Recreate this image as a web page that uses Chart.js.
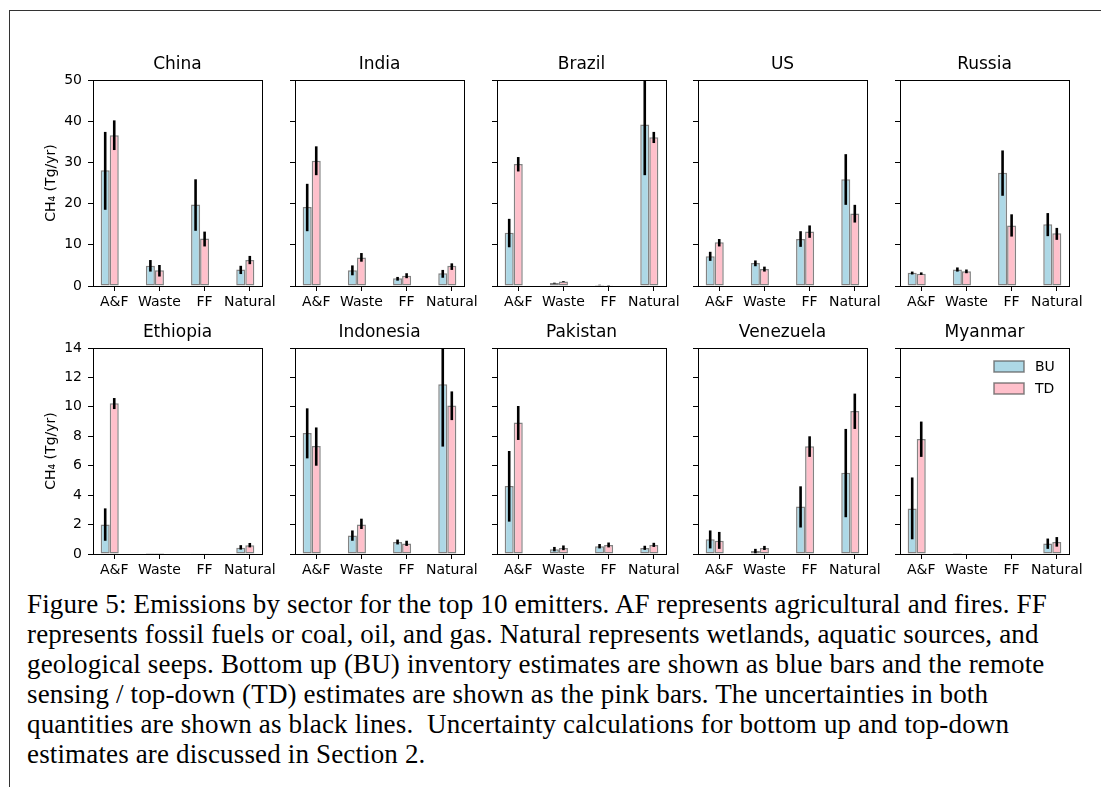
<!DOCTYPE html>
<html>
<head>
<meta charset="utf-8">
<script src="https://cdn.jsdelivr.net/npm/chart.js@4.4.1/dist/chart.umd.min.js"></script>
<style>
  body { margin: 0; background: #fff; }
  #page { position: relative; width: 1101px; height: 787px; overflow: hidden; }
  #frameTop { position: absolute; left: 10px; top: 10px; width: 1091px; height: 0; border-top: 1.5px solid #333; }
  #frameLeft { position: absolute; left: 9px; top: 10px; width: 0; height: 777px; border-left: 1.5px solid #333; }
  .panel { position: absolute; }
  #caption {
    position: absolute; left: 27px; top: 589px; width: 1072px;
    font-family: "Liberation Serif", "Times New Roman", serif; font-size: 27px; line-height: 30px;
    letter-spacing: 0.15px; color: #000; white-space: pre;
  }
</style>
</head>
<body>
<div id="page">
  <div id="frameTop"></div>
  <div id="frameLeft"></div>
  <div id="caption">Figure 5: Emissions by sector for the top 10 emitters. AF represents agricultural and fires. FF
represents fossil fuels or coal, oil, and gas. Natural represents wetlands, aquatic sources, and
geological seeps. Bottom up (BU) inventory estimates are shown as blue bars and the remote
sensing / top-down (TD) estimates are shown as the pink bars. The uncertainties in both
quantities are shown as black lines.  Uncertainty calculations for bottom up and top-down
estimates are discussed in Section 2.</div>
</div>
<script>
// values, Tg/yr
var countries = ['China', 'India', 'Brazil', 'US', 'Russia',
                 'Ethiopia', 'Indonesia', 'Pakistan', 'Venezuela', 'Myanmar'];
var sectors = ['A&F', 'Waste', 'FF', 'Natural'];

var buValues = [
  [28.1, 4.9, 19.8, 4.0],
  [19.2, 3.8, 1.9, 3.1],
  [12.9, 0.7, 0.25, 39.2],
  [7.2, 5.6, 11.4, 25.9],
  [3.2, 4.0, 27.5, 15.0],
  [2.0, 0.06, 0.02, 0.43],
  [8.22, 1.25, 0.82, 11.53],
  [4.62, 0.32, 0.52, 0.41],
  [1.0, 0.2, 3.22, 5.53],
  [3.1, 0.06, 0.02, 0.72]
];
var buLow = [
  [18.5, 3.5, 13.4, 2.9],
  [13.3, 2.6, 1.3, 2.0],
  [9.4, 0.6, 0.2, 26.9],
  [6.1, 4.8, 9.5, 19.7],
  [2.8, 3.5, 21.9, 12.1],
  [0.9, 0.06, 0.02, 0.3],
  [6.5, 0.9, 0.65, 7.3],
  [2.2, 0.18, 0.38, 0.28],
  [0.38, 0.05, 1.8, 2.5],
  [1.0, 0.06, 0.02, 0.35]
];
var buHigh = [
  [37.4, 6.3, 25.9, 4.9],
  [24.8, 5.0, 2.2, 3.9],
  [16.3, 0.8, 0.3, 51.5],
  [8.3, 6.2, 13.3, 32.0],
  [3.5, 4.5, 32.9, 17.7],
  [3.1, 0.06, 0.02, 0.6],
  [9.9, 1.6, 0.98, 15.7],
  [7.0, 0.48, 0.68, 0.56],
  [1.6, 0.35, 4.6, 8.5],
  [5.2, 0.06, 0.02, 1.05]
];
var tdValues = [
  [36.6, 3.8, 11.5, 6.3],
  [30.4, 6.9, 2.5, 4.9],
  [29.6, 1.1, 0.2, 36.1],
  [10.6, 4.1, 13.2, 17.6],
  [3.0, 3.6, 14.7, 12.8],
  [10.24, 0.06, 0.02, 0.6],
  [7.34, 2.0, 0.72, 10.1],
  [8.93, 0.41, 0.61, 0.61],
  [0.9, 0.41, 7.32, 9.72],
  [7.82, 0.04, 0.02, 0.82]
];
var tdLow = [
  [33.0, 2.3, 9.6, 5.3],
  [26.9, 5.9, 1.9, 3.9],
  [27.8, 1.0, 0.15, 34.7],
  [9.6, 3.5, 11.7, 15.4],
  [2.7, 3.1, 12.0, 11.2],
  [9.85, 0.06, 0.02, 0.45],
  [6.0, 1.7, 0.55, 9.1],
  [7.75, 0.26, 0.45, 0.48],
  [0.35, 0.27, 6.6, 8.5],
  [6.6, 0.04, 0.02, 0.5]
];
var tdHigh = [
  [40.2, 5.1, 13.2, 7.3],
  [33.9, 8.0, 3.1, 5.5],
  [31.3, 1.2, 0.25, 37.4],
  [11.4, 4.7, 14.7, 19.7],
  [3.3, 4.0, 17.4, 14.1],
  [10.6, 0.06, 0.02, 0.75],
  [8.6, 2.4, 0.9, 11.05],
  [10.06, 0.58, 0.78, 0.76],
  [1.5, 0.55, 8.0, 10.9],
  [9.0, 0.04, 0.02, 1.15]
];
var yMaxRows = [50, 14];
var yStepRows = [10, 2];

Chart.defaults.font.family = 'DejaVu Sans';
Chart.defaults.color = '#000';

// layout of the 2 x 5 grid (plot area corners, px)
var plotLefts = [93, 295, 497, 698, 900];
var plotTops = [80, 348];
var plotW = 169, plotH = 206;
var yAxisW = 50, titleH = 25, xAxisH = 30, padRight = 30;
var groupShift = -0.1;

var errorBars = {
  id: 'errorBars',
  afterDatasetsDraw: function (chart) {
    var ctx = chart.ctx, area = chart.chartArea, ys = chart.scales.y;
    ctx.save();
    ctx.beginPath();
    ctx.rect(area.left, area.top, area.right - area.left, area.bottom - area.top);
    ctx.clip();
    ctx.strokeStyle = '#000';
    ctx.lineWidth = 2.6;
    chart.data.datasets.forEach(function (ds, d) {
      var meta = chart.getDatasetMeta(d);
      meta.data.forEach(function (bar, i) {
        if (ds.errHigh[i] - ds.errLow[i] <= 0) return;
        ctx.beginPath();
        ctx.moveTo(bar.x, ys.getPixelForValue(ds.errLow[i]));
        ctx.lineTo(bar.x, ys.getPixelForValue(ds.errHigh[i]));
        ctx.stroke();
      });
    });
    ctx.restore();
  }
};

var frameBox = {
  id: 'frameBox',
  afterDraw: function (chart) {
    var ctx = chart.ctx, a = chart.chartArea;
    ctx.save();
    ctx.strokeStyle = '#000';
    ctx.lineWidth = 1;
    ctx.strokeRect(Math.round(a.left) + 0.5, Math.round(a.top) + 0.5,
                   Math.round(a.right - a.left), Math.round(a.bottom - a.top));
    ctx.restore();
  }
};

var insideLegend = {
  id: 'insideLegend',
  afterDraw: function (chart) {
    var ctx = chart.ctx, a = chart.chartArea;
    ctx.save();
    ctx.font = '14px "DejaVu Sans"';
    ctx.textBaseline = 'middle';
    chart.data.datasets.forEach(function (ds, d) {
      var bx = a.right - 75, by = a.top + 13 + d * 22;
      ctx.fillStyle = ds.backgroundColor;
      ctx.fillRect(bx, by, 30, 11);
      ctx.strokeStyle = ds.borderColor;
      ctx.lineWidth = 1.5;
      ctx.strokeRect(bx, by, 30, 11);
      ctx.fillStyle = '#000';
      ctx.fillText(ds.label, bx + 41, by + 6);
    });
    ctx.restore();
  }
};

function makePanel(c) {
  var row = Math.floor(c / 5), col = c % 5;
  var div = document.createElement('div');
  div.className = 'panel';
  div.style.left = (plotLefts[col] - yAxisW) + 'px';
  div.style.top = (plotTops[row] - titleH) + 'px';
  div.style.width = (yAxisW + plotW + padRight) + 'px';
  div.style.height = (titleH + plotH + xAxisH) + 'px';
  var canvas = document.createElement('canvas');
  div.appendChild(canvas);
  document.getElementById('page').appendChild(div);

  function series(vals) {
    return vals.map(function (v, i) { return { x: i + groupShift, y: v }; });
  }
  var firstCol = col === 0;
  var plugins = [errorBars, frameBox];
  if (c === 9) plugins.push(insideLegend);

  new Chart(canvas, {
    type: 'bar',
    data: {
      datasets: [
        { label: 'BU', data: series(buValues[c]), errLow: buLow[c], errHigh: buHigh[c],
          backgroundColor: '#add8e6', borderColor: 'rgba(90,90,90,0.75)', borderWidth: 1.5 },
        { label: 'TD', data: series(tdValues[c]), errLow: tdLow[c], errHigh: tdHigh[c],
          backgroundColor: '#ffc0cb', borderColor: 'rgba(90,90,90,0.75)', borderWidth: 1.5 }
      ]
    },
    plugins: plugins,
    options: {
      responsive: true,
      maintainAspectRatio: false,
      animation: false,
      layout: { padding: { left: 0, top: 0, bottom: 0, right: padRight } },
      categoryPercentage: 0.4,
      barPercentage: 1.0,
      borderSkipped: false,
      plugins: {
        legend: { display: false },
        tooltip: { enabled: false },
        title: {
          display: true, fullSize: false, text: countries[c], color: '#000',
          font: { size: 17, weight: 'normal', lineHeight: '20px' },
          padding: { top: 0, bottom: 5 }
        }
      },
      scales: {
        x: {
          type: 'linear', min: -0.47, max: 3.27, offset: false,
          afterBuildTicks: function (s) { s.ticks = sectors.map(function (n, i) { return { value: i }; }); },
          afterFit: function (s) { s.height = xAxisH; s.paddingLeft = 0; s.paddingRight = 0; },
          ticks: {
            font: { size: 14 }, color: '#000', padding: 3, maxRotation: 0, autoSkip: false,
            callback: function (v) { return sectors[v]; }
          },
          grid: { display: true, offset: false, drawOnChartArea: false, drawTicks: true, tickLength: 5, tickColor: '#000' },
          border: { display: true, color: '#000', width: 1 }
        },
        y: {
          min: 0, max: yMaxRows[row],
          afterFit: function (s) { s.width = yAxisW; s.paddingTop = 0; s.paddingBottom = 0; },
          ticks: { stepSize: yStepRows[row], display: firstCol, font: { size: 14 }, color: '#000', padding: 6 },
          title: { display: firstCol, text: 'CH\u2084 (Tg/yr)', color: '#000', font: { size: 14 }, padding: 0 },
          grid: { display: true, drawOnChartArea: false, drawTicks: true, tickLength: 5, tickColor: '#000' },
          border: { display: true, color: '#000', width: 1 }
        }
      }
    }
  });
}

for (var c = 0; c < countries.length; c++) makePanel(c);
</script>
</body>
</html>
